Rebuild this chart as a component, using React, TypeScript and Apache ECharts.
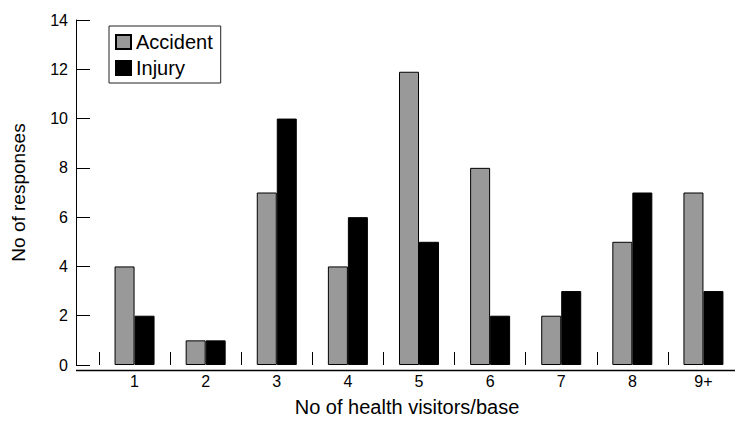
import React, { useEffect, useRef } from "react";
import * as echarts from "echarts";

const categories = ["1", "2", "3", "4", "5", "6", "7", "8", "9+"];
const accident = [4, 1, 7, 4, 11.9, 8, 2, 5, 7];
const injury = [2, 1, 10, 6, 5, 2, 3, 7, 3];
const yTicks = { min: 0, max: 14, interval: 2 };

export default function App() {
  const ref = useRef<HTMLDivElement>(null);
  useEffect(() => {
    if (!ref.current) return;
    const chart = echarts.init(ref.current, null, { renderer: "svg" });
    const font = "Liberation Sans, Arial, Helvetica, sans-serif";
    chart.setOption({
      animation: false,
      backgroundColor: "#fff",
      textStyle: { fontFamily: font, color: "#000" },
      grid: { left: 99, right: -3.5, top: 20, bottom: 52, containLabel: false },
      legend: {
        left: 109,
        top: 26,
        orient: "vertical",
        backgroundColor: "#fff",
        borderColor: "#222",
        borderWidth: 1,
        borderRadius: 0,
        padding: [6, 8, 5, 6],
        itemGap: 6,
        itemWidth: 15,
        itemHeight: 14,
        icon: "rect",
        textStyle: { fontSize: 20, color: "#000", fontFamily: font },
        data: ["Accident", "Injury"],
      },
      xAxis: {
        type: "category",
        data: categories,
        boundaryGap: true,
        name: "No of health visitors/base",
        nameLocation: "middle",
        nameGap: 32,
        nameTextStyle: { fontSize: 20, color: "#000", fontFamily: font, padding: [0, 24, 0, 0] },
        axisLine: { show: false },
        axisTick: { show: true, inside: true, length: 13, lineStyle: { color: "#000", width: 1 } },
        axisLabel: { fontSize: 16, color: "#000", margin: 8 },
        splitLine: { show: false },
      },
      yAxis: {
        type: "value",
        min: yTicks.min,
        max: yTicks.max,
        interval: yTicks.interval,
        offset: 23,
        name: "No of responses",
        nameLocation: "middle",
        nameGap: 48,
        nameTextStyle: { fontSize: 19, color: "#000", fontFamily: font },
        axisLine: { show: true, lineStyle: { color: "#000", width: 1 } },
        axisTick: { show: true, inside: true, length: 14, lineStyle: { color: "#000", width: 1 } },
        axisLabel: { fontSize: 16, color: "#000", margin: 8 },
        splitLine: { show: false },
      },
      graphic: [
        {
          type: "line",
          shape: { x1: 76, y1: 370.5, x2: 735, y2: 370.5 },
          style: { stroke: "#000", lineWidth: 1.5 },
          z: 10,
        },
      ],
      series: [
        {
          name: "Accident",
          type: "bar",
          data: accident,
          barWidth: 20,
          barGap: "0%",
          itemStyle: { color: "#999999", borderColor: "#000", borderWidth: 1 },
        },
        {
          name: "Injury",
          type: "bar",
          data: injury,
          barWidth: 20,
          barGap: "0%",
          itemStyle: { color: "#000", borderColor: "#000", borderWidth: 1 },
        },
      ],
    });
    return () => chart.dispose();
  }, []);
  return <div ref={ref} style={{ width: 739, height: 422, position: "absolute", left: 0, top: 0 }} />;
}
